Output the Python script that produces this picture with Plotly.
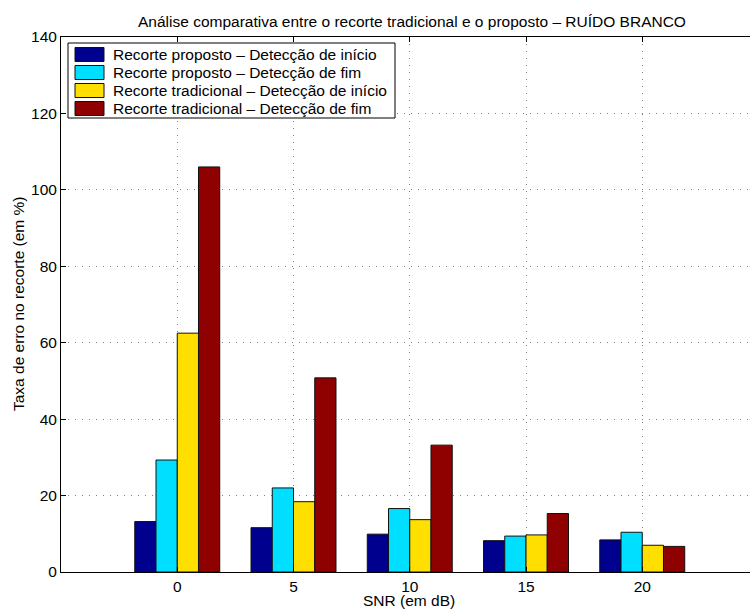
import plotly.graph_objects as go

# SNR levels (dB) shown along the x axis
snr_labels = ["0", "5", "10", "15", "20"]

# Legend names of the four bar series
series_names = [
    "Recorte proposto – Detecção de início",
    "Recorte proposto – Detecção de fim",
    "Recorte tradicional – Detecção de início",
    "Recorte tradicional – Detecção de fim",
]

# Error rates (%) per SNR level
proposto_inicio = [13.2, 11.6, 9.9, 8.2, 8.4]
proposto_fim = [29.3, 22.0, 16.6, 9.4, 10.4]
tradicional_inicio = [62.5, 18.4, 13.7, 9.7, 7.0]
tradicional_fim = [106.0, 50.8, 33.2, 15.3, 6.7]

y_ticks = [0, 20, 40, 60, 80, 100, 120, 140]

# jet-like colours used for grouped bars
series_colors = ["#00008F", "#00DFFF", "#FFDF00", "#8F0000"]
series_values = [proposto_inicio, proposto_fim, tradicional_inicio, tradicional_fim]

FONT = "Liberation Sans"
FS = 15.5
W, H = 750, 611
ML, MR, MT, MB = 61, 0, 37, 39
PW, PH = W - ML - MR, H - MT - MB

x_pos = list(range(1, len(snr_labels) + 1))
px_per_unit = 116.25


def fx(px):
    return (px - ML) / PW


def fy(py):
    return (H - MB - py) / PH


fig = go.Figure()
for name, vals, col in zip(series_names, series_values, series_colors):
    fig.add_trace(go.Bar(
        x=x_pos, y=vals, name=name,
        marker=dict(color=col, line=dict(color="#111111", width=1)),
        showlegend=False,
    ))

fig.update_layout(
    width=W, height=H,
    margin=dict(l=ML, r=MR, t=MT, b=MB, pad=0),
    paper_bgcolor="white", plot_bgcolor="white",
    barmode="group", bargap=0.269, bargroupgap=0,
    font=dict(family=FONT, size=FS, color="black"),
)

fig.update_xaxes(
    range=[0, PW / px_per_unit],
    tickmode="array", tickvals=x_pos, ticktext=snr_labels,
    ticks="inside", ticklen=5, tickcolor="black", ticklabelstandoff=0,
    showline=True, linecolor="black", linewidth=1, mirror="ticks",
    showgrid=True, gridcolor="#808080", gridwidth=1, griddash="1px,6px",
    zeroline=False, tickfont=dict(size=FS),
)
fig.update_yaxes(
    range=[0, 140],
    tickmode="array", tickvals=y_ticks,
    ticks="inside", ticklen=5, tickcolor="black",
    showline=True, linecolor="black", linewidth=1, mirror=False,
    showgrid=True, gridcolor="#808080", gridwidth=1, griddash="1px,6px",
    zeroline=False, tickfont=dict(size=FS),
)

annotations = [
    dict(text="Análise comparativa entre o recorte tradicional e o proposto – RUÍDO BRANCO",
         xref="paper", yref="paper", x=fx(411.5), y=fy(21),
         xanchor="center", yanchor="middle", showarrow=False,
         font=dict(size=FS)),
    dict(text="SNR (em dB)", xref="paper", yref="paper", x=fx(409), y=fy(611),
         xanchor="center", yanchor="bottom", showarrow=False, font=dict(size=FS)),
    dict(text="Taxa de erro no recorte (em %)", xref="paper", yref="paper",
         x=fx(18), y=fy(304), textangle=-90,
         xanchor="center", yanchor="middle", showarrow=False, font=dict(size=FS)),
]

# Legend box drawn in the upper-left corner
shapes = []
lg_left, lg_right, lg_top, lg_bottom = 68, 395, 43, 118
shapes.append(dict(type="rect", xref="paper", yref="paper",
                   x0=fx(lg_left), x1=fx(lg_right), y0=fy(lg_bottom), y1=fy(lg_top),
                   line=dict(color="black", width=1), fillcolor="white", layer="above"))
row_y = [54.5, 72.5, 90.5, 108.5]
for name, col, ry in zip(series_names, series_colors, row_y):
    shapes.append(dict(type="rect", xref="paper", yref="paper",
                       x0=fx(75), x1=fx(104), y0=fy(ry + 7), y1=fy(ry - 7),
                       line=dict(color="#111111", width=1), fillcolor=col, layer="above"))
    annotations.append(dict(text=name, xref="paper", yref="paper",
                            x=fx(111), y=fy(ry), xanchor="left", yanchor="middle",
                            showarrow=False, font=dict(size=FS)))

fig.update_layout(shapes=shapes, annotations=annotations)

fig.write_html("out.html")
